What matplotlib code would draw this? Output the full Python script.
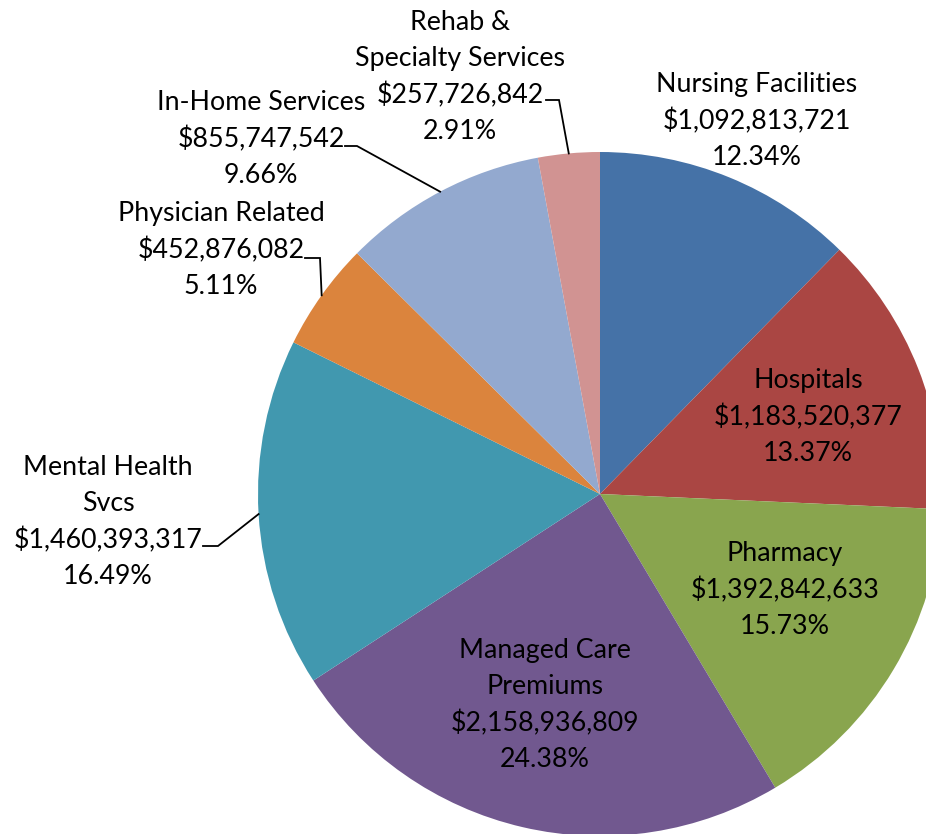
import matplotlib.pyplot as plt
import numpy as np

W, H = 926, 834

categories = ["Nursing Facilities", "Hospitals", "Pharmacy", "Managed Care\nPremiums",
              "Mental Health\nSvcs", "Physician Related", "In-Home Services",
              "Rehab &\nSpecialty Services"]
amounts = [1092813721, 1183520377, 1392842633, 2158936809,
           1460393317, 452876082, 855747542, 257726842]
percents = [12.34, 13.37, 15.73, 24.38, 16.49, 5.11, 9.66, 2.91]

colors = ["#4572A7", "#AA4643", "#89A54E", "#71588F",
          "#4198AF", "#DB843D", "#93A9CF", "#D19392"]

# label block centres in pixel coords (x, y from top)
label_pos = [(757, 121), (808, 417), (785, 590), (545, 705),
             (108, 522), (221, 250), (261, 139), (460, 77)]
# leader lines: elbow and end point (pixels), None = label inside the slice
leaders = [None, None, None, None,
           [(218, 546), (203, 546)], [(320, 258), (305, 258)],
           [(357, 146), (345, 146)], [(559, 100), (546, 100)]]

cx, cy, r = 600, 494, 342

plt.rcParams['font.family'] = ['Lato', 'DejaVu Sans']

fig = plt.figure(figsize=(W / 100, H / 100), dpi=100)
ax = fig.add_axes([0, 0, 1, 1])

wedges, _ = ax.pie(amounts, colors=colors, startangle=90, counterclock=False,
                   center=(cx, H - cy), radius=r, frame=True)
ax.set_xlim(0, W)
ax.set_ylim(0, H)
ax.set_aspect('equal')
ax.axis('off')

for i, w in enumerate(wedges):
    x, y = label_pos[i]
    txt = f"{categories[i]}\n${amounts[i]:,}\n{percents[i]:.2f}%"
    ax.text(x, H - y, txt, ha='center', va='center', fontsize=19.3,
            linespacing=1.52, color='black')
    if leaders[i] is not None:
        ang = np.deg2rad((w.theta1 + w.theta2) / 2)
        ex, ey = cx + r * np.cos(ang), (H - cy) + r * np.sin(ang)
        (bx, by), (tx, ty) = leaders[i]
        ax.plot([ex, bx, tx], [ey, H - by, H - ty], color='black', lw=1.3,
                solid_joinstyle='miter')

fig.savefig("out.png", dpi=100)
